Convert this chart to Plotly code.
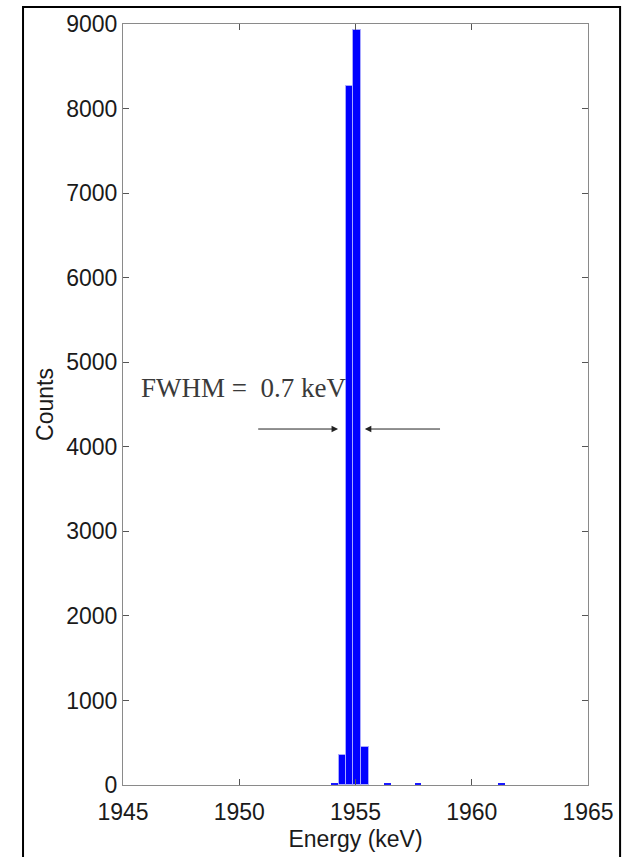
import plotly.graph_objects as go

# Histogram bins (keV) and counts
bin_left = [1953.95, 1954.31, 1954.60, 1954.88, 1955.24, 1956.24, 1957.54, 1961.12]
bin_right = [1954.24, 1954.60, 1954.88, 1955.24, 1955.56, 1956.53, 1957.83, 1961.42]
counts = [20, 355, 8270, 8930, 450, 20, 20, 20]

x_ticks = [1945, 1950, 1955, 1960, 1965]
y_ticks = [0, 1000, 2000, 3000, 4000, 5000, 6000, 7000, 8000, 9000]

centers = [(l + r) / 2 for l, r in zip(bin_left, bin_right)]
widths = [r - l for l, r in zip(bin_left, bin_right)]

big = [i for i, c in enumerate(counts) if c >= 100]
small = [i for i, c in enumerate(counts) if c < 100]

fig = go.Figure()
fig.add_trace(go.Bar(
    x=[centers[i] for i in big], y=[counts[i] for i in big], width=[widths[i] for i in big],
    marker=dict(color="#0000ff", line=dict(color="#a8a8ff", width=1)),
    showlegend=False,
))
fig.add_trace(go.Bar(
    x=[centers[i] for i in small], y=[counts[i] for i in small], width=[widths[i] for i in small],
    marker=dict(color="#1a1aff", line=dict(width=0)),
    showlegend=False,
))

font_sans = "Liberation Sans, Arial, sans-serif"
axis_common = dict(
    showline=True, linecolor="#8a8a8a", linewidth=1, mirror="ticks",
    ticks="inside", ticklen=6, tickcolor="#555555", tickwidth=1,
    showgrid=False, zeroline=False, automargin=False,
    tickfont=dict(family=font_sans, size=23, color="#1a1a1a"),
)

fig.update_layout(
    width=624, height=857,
    margin=dict(l=123, r=36, t=24, b=72),
    paper_bgcolor="white", plot_bgcolor="white",
    bargap=0, barmode="overlay",
    xaxis=dict(range=[1945, 1965], tickvals=x_ticks, ticktext=[str(v) for v in x_ticks],
               ticklabelstandoff=6,
               title=dict(text="Energy (keV)", standoff=7,
                          font=dict(family=font_sans, size=23, color="#1a1a1a")),
               **axis_common),
    yaxis=dict(range=[0, 9000], tickvals=y_ticks, ticktext=[str(v) for v in y_ticks],
               title=dict(text="Counts", standoff=6,
                          font=dict(family=font_sans, size=23, color="#1a1a1a")),
               **axis_common),
)

# FWHM label and arrows
fig.add_annotation(x=1954.67, y=4700, xref="x", yref="y",
                   text="FWHM\u00a0=\u00a0\u00a00.7\u00a0keV",
                   showarrow=False, xanchor="right", yanchor="middle",
                   font=dict(family="Liberation Serif, DejaVu Serif, serif", size=27, color="#3a3a3a"))
fig.add_annotation(x=1954.25, y=4210, ax=1950.75, ay=4210, xref="x", yref="y",
                   axref="x", ayref="y", text="", showarrow=True, arrowhead=2,
                   arrowsize=1.3, arrowwidth=1, arrowcolor="#222222")
fig.add_annotation(x=1955.4, y=4210, ax=1958.7, ay=4210, xref="x", yref="y",
                   axref="x", ayref="y", text="", showarrow=True, arrowhead=2,
                   arrowsize=1.3, arrowwidth=1, arrowcolor="#222222")

# Outer frame
fig.add_shape(type="rect", xref="paper", yref="paper",
              x0=-0.215, x1=1.069, y0=-0.2, y1=1.0223,
              line=dict(color="black", width=2), fillcolor="rgba(0,0,0,0)", layer="above")

fig.write_html("out.html")
